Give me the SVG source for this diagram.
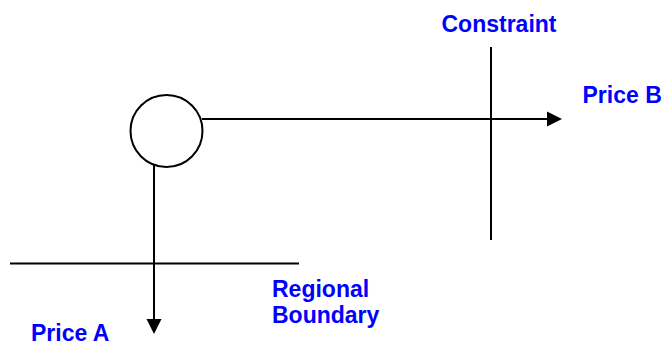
<svg xmlns="http://www.w3.org/2000/svg" width="664" height="344" viewBox="0 0 664 344">
  <style>
    .ln { stroke: #000; stroke-width: 2; fill: none; }
    .lbl { font-family: "Liberation Sans", Arial, sans-serif; font-weight: bold; font-size: 23px; fill: #0000FF; }
    .ah { fill: #000; }
  </style>
  <rect width="664" height="344" fill="#fff"/>
  <g id="connectors">
    <line class="ln" x1="202" y1="119" x2="549" y2="119"/>
    <polygon class="ah" points="547,111.5 562,119 547,126.5"/>
    <line class="ln" x1="154" y1="165" x2="154" y2="321"/>
    <polygon class="ah" points="146.5,319 161.5,319 154,334"/>
  </g>
  <g id="node-circle">
    <circle class="ln" cx="166.5" cy="131" r="36"/>
  </g>
  <g id="constraint">
    <line class="ln" x1="491" y1="47" x2="491" y2="240"/>
    <text class="lbl" x="499" y="31.5" text-anchor="middle">Constraint</text>
  </g>
  <g id="regional-boundary">
    <line class="ln" x1="10" y1="263.5" x2="299" y2="263.5"/>
    <text class="lbl" x="272" y="296.5">Regional</text>
    <text class="lbl" x="272" y="322.5">Boundary</text>
  </g>
  <g id="price-a">
    <text class="lbl" x="31" y="341">Price A</text>
  </g>
  <g id="price-b">
    <text class="lbl" x="582.5" y="103">Price B</text>
  </g>
</svg>
